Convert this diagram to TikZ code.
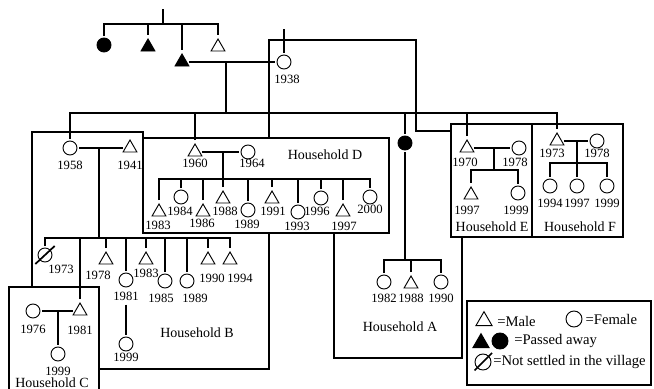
\documentclass[tikz,border=0pt]{standalone}
\usepackage{fontspec}
\setmainfont{Liberation Serif}
\usetikzlibrary{positioning,shapes.geometric}

\begin{document}
\begin{tikzpicture}[
        x=0.75pt, y=-0.75pt,
        male/.style={draw, regular polygon, regular polygon sides=3, minimum size=12pt, inner sep=0pt, outer sep=1.5pt, line width=0.7pt},
        fem/.style={draw, circle, minimum size=10.5pt, inner sep=0pt, outer sep=1.5pt, line width=0.7pt},
        dead/.style={fill=black},
        bigm/.style={minimum size=14pt},
        bigf/.style={minimum size=12pt},
        yr/.style={inner sep=0pt, font=\fontsize{9.5}{10}\selectfont},
        hh/.style={inner sep=0pt, font=\fontsize{10.5}{12}\selectfont},
        key/.style={anchor=west, inner sep=0pt, font=\fontsize{11}{13}\selectfont},
        kin/.style={line width=1.5pt},
        hbox/.style={line width=0.8pt},
        slash/.style={line width=1.3pt}
      ]
      \useasboundingbox (0,0) rectangle (654,389);

      % Household boxes
      \draw[hbox] (143,138) rectangle (389,233);
      \draw[hbox] (451,124) rectangle (532,237);
      \draw[hbox, line width=1.3pt] (532,124) rectangle (623,237);
      \draw[hbox] (9,395) -- (9,287) -- (99,287) -- (99,395);
      \draw[hbox] (99,369) -- (269,369) -- (269,233);
      \draw[hbox] (143,138) -- (143,132) -- (32,132) -- (32,287);
      \draw[hbox] (269,138) -- (269,40) -- (416,40) -- (416,131) -- (451,131);
      \draw[hbox] (462,237) -- (462,358) -- (334,358) -- (334,233);

      % Grandparents' generation
      \coordinate (top) at (163,9);
      \coordinate (k0) at (163,24);
      \node[fem, dead] (sis1) at (104,45) {};
      \node[male, dead] (bro1) at (148,47) {};
      \node[male, dead] (fa) at (182,62) {};
      \node[male] (bro2) at (218,47) {};
      \node[fem] (mo) at (284,62) {};
      \node[yr] (mo-y) at (287,79) {1938};
      \coordinate (up1938) at (284,29);
      \coordinate (mT) at (226,62);
      \coordinate (kT) at (226,113);
      \draw[kin] (top) -- (k0);
      \draw[kin] (sis1.north) |- (k0) -| (bro2.north);
      \draw[kin] (bro1.north) -- (bro1.north |- k0);
      \draw[kin] (fa.north) -- (fa.north |- k0);
      \draw[kin] (up1938) -- (mo);
      \draw[kin] (fa) -- (mo);
      \draw[kin] (mT) -- (kT);

      % Their children
      \node[fem] (b1958) at (70,148) {};
      \node[male] (d1960) at (195,152) {};
      \node[fem, dead] (a0) at (405,143) {};
      \node[male] (e1970) at (467,148) {};
      \node[male] (f1973) at (557,141) {};
      \draw[kin] (b1958.north) |- (kT) -| (f1973.north);
      \draw[kin] (d1960.north) -- (d1960.north |- kT);
      \draw[kin] (a0.north) -- (a0.north |- kT);
      \draw[kin] (e1970.north) -- (e1970.north |- kT);

      % Household B
      \node[male] (b1941) at (130,148) {};
      \node[yr] (b1958-y) at (70,165) {1958};
      \node[yr] (b1941-y) at (130,165) {1941};
      \coordinate (mB) at (99,148);
      \coordinate (kB) at (99,238);
      \draw[kin] (b1958) -- (b1941);
      \draw[kin] (mB) -- (kB);
      \node[fem] (b1973) at (45,255) {};
      \draw[slash] ([xshift=-2.5pt,yshift=-2pt]b1973.south west) -- ([xshift=2.5pt,yshift=2pt]b1973.north east);
      \node[male] (b1978) at (106,260) {};
      \node[fem] (b1981) at (126,280) {};
      \node[male] (b1983) at (146,260) {};
      \node[fem] (b1985) at (165,281) {};
      \node[fem] (b1989) at (187,281) {};
      \node[male] (b1990) at (208,260) {};
      \node[male] (b1994) at (230,260) {};
      \node[yr] (b1973-y) at (61,269) {1973};
      \node[yr] (b1978-y) at (98,275) {1978};
      \node[yr] (b1981-y) at (126,296) {1981};
      \node[yr] (b1983-y) at (146,273) {1983};
      \node[yr] (b1985-y) at (161,298) {1985};
      \node[yr] (b1989-y) at (195,298) {1989};
      \node[yr] (b1990-y) at (212,278) {1990};
      \node[yr] (b1994-y) at (240,278) {1994};
      \node[fem] (b1999) at (126,344) {};
      \node[yr] (b1999-y) at (126,357) {1999};
      \node[hh] (hB) at (197,333) {Household B};

      % Household C
      \node[fem] (c1976) at (33,311) {};
      \node[male] (c1981) at (80,311) {};
      \node[fem] (c1999) at (58,354) {};
      \node[yr] (c1976-y) at (33,329) {1976};
      \node[yr] (c1981-y) at (80,330) {1981};
      \node[yr] (c1999-y) at (58,371) {1999};
      \node[hh] (hC) at (52,383) {Household C};
      \coordinate (mC) at (58,311);
      \draw[kin] (b1973.north) |- (kB) -| (b1994.north);
      \draw[kin] (c1981.north) -- (c1981.north |- kB);
      \draw[kin] (b1978.north) -- (b1978.north |- kB);
      \draw[kin] (b1981.north) -- (b1981.north |- kB);
      \draw[kin] (b1983.north) -- (b1983.north |- kB);
      \draw[kin] (b1985.north) -- (b1985.north |- kB);
      \draw[kin] (b1989.north) -- (b1989.north |- kB);
      \draw[kin] (b1990.north) -- (b1990.north |- kB);
      \draw[kin, shorten <=3pt] (b1981-y) -- (b1999);
      \draw[kin] (c1976) -- (c1981);
      \draw[kin] (mC) -- (c1999);

      % Household D
      \node[fem] (d1964) at (248,152) {};
      \node[yr] (d1960-y) at (195,163) {1960};
      \node[yr] (d1964-y) at (252,163) {1964};
      \node[hh] (hD) at (325,155) {Household D};
      \coordinate (mD) at (223,152);
      \coordinate (kD) at (223,179);
      \node[male] (d1983) at (159,212) {};
      \node[fem] (d1984) at (181,197) {};
      \node[male] (d1986) at (203,212) {};
      \node[male] (d1988) at (223,199) {};
      \node[fem] (d1989) at (248,210) {};
      \node[male] (d1991) at (272,199) {};
      \node[fem] (d1993) at (298,212) {};
      \node[fem] (d1996) at (321,198) {};
      \node[male] (d1997) at (343,212) {};
      \node[fem] (d2000) at (370,197) {};
      \node[yr] (d1983-y) at (158,225) {1983};
      \node[yr] (d1984-y) at (180,211) {1984};
      \node[yr] (d1986-y) at (202,223) {1986};
      \node[yr] (d1988-y) at (225,211) {1988};
      \node[yr] (d1989-y) at (247,224) {1989};
      \node[yr] (d1991-y) at (273,211) {1991};
      \node[yr] (d1993-y) at (297,226) {1993};
      \node[yr] (d1996-y) at (317,211) {1996};
      \node[yr] (d1997-y) at (344,226) {1997};
      \node[yr] (d2000-y) at (370,209) {2000};
      \draw[kin] (d1960) -- (d1964);
      \draw[kin] (mD) -- (kD);
      \draw[kin] (d1983.north) |- (kD) -| (d2000.north);
      \draw[kin] (d1984.north) -- (d1984.north |- kD);
      \draw[kin] (d1986.north) -- (d1986.north |- kD);
      \draw[kin] (d1988.north) -- (d1988.north |- kD);
      \draw[kin] (d1989.north) -- (d1989.north |- kD);
      \draw[kin] (d1991.north) -- (d1991.north |- kD);
      \draw[kin] (d1993.north) -- (d1993.north |- kD);
      \draw[kin] (d1996.north) -- (d1996.north |- kD);
      \draw[kin] (d1997.north) -- (d1997.north |- kD);

      % Household A
      \coordinate (kA) at (405,260);
      \node[fem] (a1982) at (384,282) {};
      \node[male] (a1988) at (411,284) {};
      \node[fem] (a1990) at (441,282) {};
      \node[yr] (a1982-y) at (384,298) {1982};
      \node[yr] (a1988-y) at (411,298) {1988};
      \node[yr] (a1990-y) at (441,298) {1990};
      \node[hh] (hA) at (400,327) {Household A};
      \draw[kin] (a0) -- (kA);
      \draw[kin] (a1982.north) |- (kA) -| (a1990.north);
      \draw[kin] (a1988.north) -- (a1988.north |- kA);

      % Household E
      \node[fem] (e1978) at (519,148) {};
      \node[yr] (e1970-y) at (465,162) {1970};
      \node[yr] (e1978-y) at (515,162) {1978};
      \coordinate (mE) at (494,148);
      \coordinate (kE) at (494,170);
      \node[male] (e1997) at (471,195) {};
      \node[fem] (e1999) at (518,193) {};
      \node[yr] (e1997-y) at (467,210) {1997};
      \node[yr] (e1999-y) at (516,210) {1999};
      \node[hh] (hE) at (492,227) {Household E};
      \draw[kin] (e1970) -- (e1978);
      \draw[kin] (mE) -- (kE);
      \draw[kin] (e1997.north) |- (kE) -| (e1999.north);

      % Household F
      \node[fem] (f1978) at (597,141) {};
      \node[yr] (f1973-y) at (552,153) {1973};
      \node[yr] (f1978-y) at (597,153) {1978};
      \coordinate (mF) at (577,141);
      \coordinate (kF) at (577,163);
      \node[fem] (f1994) at (550,186) {};
      \node[fem] (f1997) at (577,186) {};
      \node[fem] (f1999) at (607,186) {};
      \node[yr] (f1994-y) at (550,203) {1994};
      \node[yr] (f1997-y) at (577,203) {1997};
      \node[yr] (f1999-y) at (607,203) {1999};
      \node[hh] (hF) at (580,227) {Household F};
      \draw[kin] (f1973) -- (f1978);
      \draw[kin] (mF) -- (f1997);
      \draw[kin] (f1994.north) |- (kF) -| (f1999.north);

      % Legend
      \draw[line width=1.4pt] (467,301) rectangle (651,385);
      \node[male, bigm] (lgMale) at (484,321) {};
      \node[key, right=4pt of lgMale] (lgMaleT) {=Male};
      \node[fem, bigf] (lgFem) at (574,319) {};
      \node[key, right=1pt of lgFem] (lgFemT) {=Female};
      \node[male, dead, bigm] (lgDeadM) at (481,343) {};
      \node[fem, dead, bigf] (lgDeadF) at (500,341) {};
      \node[key, right=3pt of lgDeadF] (lgDeadT) {=Passed away};
      \node[fem, bigf] (lgGone) at (483,362) {};
      \draw[slash] ([xshift=-1pt,yshift=-1pt]lgGone.south west) -- ([xshift=1.5pt,yshift=1.5pt]lgGone.north east);
      \node[key, right=0pt of lgGone] (lgGoneT) {=Not settled in the village};

        \end{tikzpicture}
\end{document}
